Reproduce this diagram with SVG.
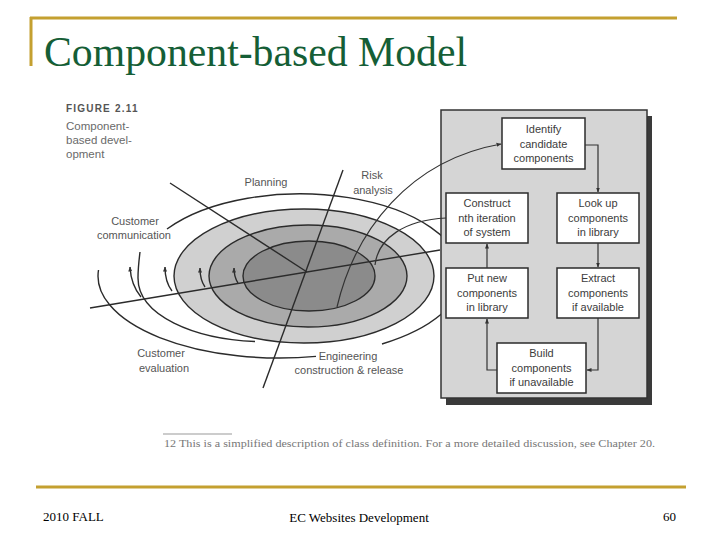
<svg xmlns="http://www.w3.org/2000/svg" width="720" height="540" viewBox="0 0 720 540">
  <defs>
    <marker id="ah" viewBox="0 0 10 10" refX="9" refY="5" markerWidth="5" markerHeight="5" orient="auto" markerUnits="userSpaceOnUse">
      <path d="M0,1 L10,5 L0,9 z" fill="#333"/>
    </marker>
    <style>
      .gold{stroke:#C4A030;stroke-width:3;fill:none}
      .title{font-family:"Liberation Serif","Times New Roman",serif;font-size:42px;fill:#155E36}
      .foot{font-family:"Liberation Serif","Times New Roman",serif;font-size:13px;fill:#000}
      .ring{stroke:#2b2b2b;stroke-width:1.4}
      .sp{stroke:#2b2b2b;stroke-width:1.4;fill:none}
      .lbl{font-family:"Liberation Sans",Arial,sans-serif;font-size:11px;fill:#555;text-anchor:middle}
      .box rect{fill:#fff;stroke:#2b2b2b;stroke-width:1.5}
      .box text{font-family:"Liberation Sans",Arial,sans-serif;font-size:11px;fill:#3c3c3c;text-anchor:middle}
      .con{stroke:#333;stroke-width:1.2;fill:none}
      .cap{font-family:"Liberation Sans",Arial,sans-serif;font-size:11.5px;fill:#6a6a6a}
    </style>
  </defs>
  <rect width="720" height="540" fill="#fff"/>

  <!-- slide frame -->
  <path class="gold" d="M30,18 H677 M31,17 V66"/>
  <text class="title" x="44" y="66" textLength="423" lengthAdjust="spacingAndGlyphs">Component-based Model</text>
  <path class="gold" d="M36,487 H686"/>
  <text class="foot" x="43" y="521">2010 FALL</text>
  <text class="foot" x="359" y="522" text-anchor="middle">EC Websites Development</text>
  <text class="foot" x="676" y="521" text-anchor="end">60</text>

  <!-- figure caption -->
  <text x="66" y="112" font-family="'Liberation Sans',Arial,sans-serif" font-size="10px" font-weight="bold" fill="#555" letter-spacing="1.2">FIGURE 2.11</text>
  <text class="cap" x="66" y="130">Component-</text>
  <text class="cap" x="66" y="144">based devel-</text>
  <text class="cap" x="66" y="158">opment</text>

  <!-- spiral -->
  <g id="spiral">
    <ellipse class="ring" cx="304" cy="276" rx="130" ry="67" fill="#d0d0d0"/>
    <ellipse class="ring" cx="308" cy="276" rx="99" ry="51" fill="#aaaaaa"/>
    <ellipse class="ring" cx="309" cy="276" rx="66" ry="35" fill="#8b8b8b"/>
    <path class="sp" d="M255,341.5 C195,339 138,316 138,278 C138,268 139,260 140,252"/>
    <path class="sp" d="M167,229 A162,82 0 0 1 462,276"/>
    <path class="sp" d="M462,276 A182,82 0 0 1 382,344"/>
    <path class="sp" d="M316,356.4 A182,82 0 0 1 98.5,270"/>
    <path class="sp" d="M170,183 L307,272"/>
    <path class="sp" d="M343,170 L263,388"/>
    <path class="sp" d="M90,308 L440,250"/>
    <path class="sp" stroke-width="1.2" marker-end="url(#ah)" d="M141,297 Q131,285 130,267"/>
    <path class="sp" stroke-width="1.2" marker-end="url(#ah)" d="M172,291 Q165,282 165,267"/>
    <path class="sp" stroke-width="1.2" marker-end="url(#ah)" d="M205,287 Q200,280 200,268"/>
    <path class="sp" stroke-width="1.2" marker-end="url(#ah)" d="M238,283 Q234,277 234,268"/>
  </g>
  <g id="spiral-labels">
    <text class="lbl" x="266" y="186">Planning</text>
    <text class="lbl" x="372" y="179">Risk</text>
    <text class="lbl" x="373" y="194">analysis</text>
    <text class="lbl" x="135" y="225">Customer</text>
    <text class="lbl" x="134" y="239">communication</text>
    <text class="lbl" x="161" y="357">Customer</text>
    <text class="lbl" x="164" y="372">evaluation</text>
    <text class="lbl" x="348" y="360">Engineering</text>
    <text class="lbl" x="349" y="374">construction &amp; release</text>
  </g>

  <!-- panel -->
  <g id="panel">
    <rect x="446" y="116" width="206" height="289" fill="#3a3a3a"/>
    <rect x="441" y="110" width="206" height="288" fill="#d5d5d5" stroke="#333" stroke-width="1.5"/>
  </g>

  <g id="identify" class="box">
    <rect x="502" y="118" width="83" height="51"/>
    <text x="543.5" y="133">Identify</text>
    <text x="543.5" y="147.5">candidate</text>
    <text x="543.5" y="162">components</text>
  </g>
  <g id="construct" class="box">
    <rect x="446" y="193" width="82" height="50"/>
    <text x="487" y="207">Construct</text>
    <text x="487" y="222">nth iteration</text>
    <text x="487" y="236">of system</text>
  </g>
  <g id="lookup" class="box">
    <rect x="557" y="193" width="82" height="50"/>
    <text x="598" y="207">Look up</text>
    <text x="598" y="222">components</text>
    <text x="598" y="236">in library</text>
  </g>
  <g id="putnew" class="box">
    <rect x="446" y="268" width="82" height="50"/>
    <text x="487" y="282">Put new</text>
    <text x="487" y="297">components</text>
    <text x="487" y="311">in library</text>
  </g>
  <g id="extract" class="box">
    <rect x="557" y="268" width="82" height="50"/>
    <text x="598" y="282">Extract</text>
    <text x="598" y="297">components</text>
    <text x="598" y="311">if available</text>
  </g>
  <g id="build" class="box">
    <rect x="497" y="343" width="89" height="50"/>
    <text x="541.5" y="357">Build</text>
    <text x="541.5" y="372">components</text>
    <text x="541.5" y="386">if unavailable</text>
  </g>

  <g id="connectors">
    <path class="con" d="M375,265 C378,238 405,220 446,218"/>
    <path class="con" marker-end="url(#ah)" d="M337,307 C355,230 410,160 501,144"/>
    <path class="con" marker-end="url(#ah)" d="M585,145 H598 V192"/>
    <path class="con" marker-end="url(#ah)" d="M598,243 V267"/>
    <path class="con" marker-end="url(#ah)" d="M598,318 V370 H587"/>
    <path class="con" marker-end="url(#ah)" d="M497,370 H487 V319"/>
    <path class="con" marker-end="url(#ah)" d="M487,268 V244"/>
  </g>

  <!-- footnote -->
  <path d="M163,434 H232" stroke="#999" stroke-width="1"/>
  <text x="164" y="447" font-family="'Liberation Serif','Times New Roman',serif" font-size="11px" fill="#777" textLength="491" lengthAdjust="spacingAndGlyphs">12  This is a simplified description of class definition. For a more detailed discussion, see Chapter 20.</text>
</svg>
